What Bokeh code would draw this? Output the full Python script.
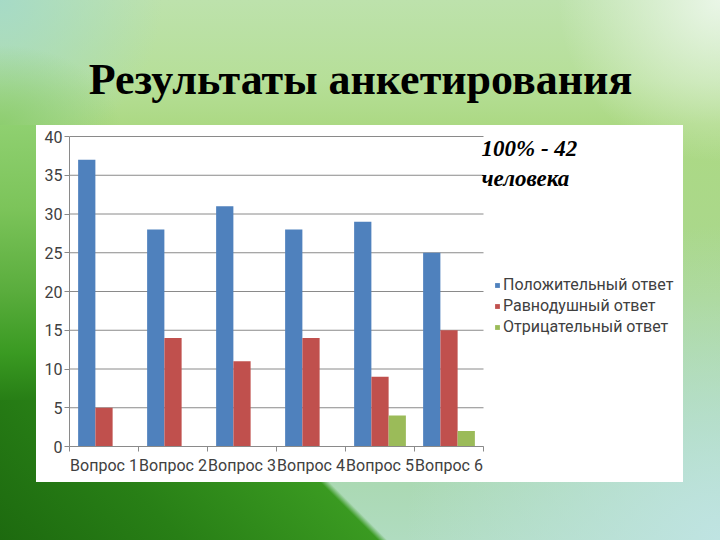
from bokeh.plotting import figure
from bokeh.models import Range1d, FixedTicker, ColumnDataSource, Legend, LegendItem, Label
from bokeh.transform import dodge
from bokeh.embed import file_html
from bokeh.resources import INLINE

# ---- data ----
questions = ["Вопрос 1", "Вопрос 2", "Вопрос 3", "Вопрос 4", "Вопрос 5", "Вопрос 6"]
series_names = ["Положительный ответ", "Равнодушный ответ", "Отрицательный ответ"]
positive = [37, 28, 31, 28, 29, 25]
neutral = [5, 14, 11, 14, 9, 15]
negative = [0, 0, 0, 0, 4, 2]
y_ticks = [0, 5, 10, 15, 20, 25, 30, 35, 40]
title_text = "Результаты анкетирования"
note_lines = ["100% - 42", "человека"]

colors = ["#4f81bd", "#c0504d", "#9bbb59"]
n = len(questions)
centers = [i + 0.5 for i in range(n)]
bounds = list(range(n + 1))

# layout (pixels): plot area 69..483 x 136..446 inside a 720x540 page
W, H = 720, 540
left_px, axis_right_px, top40_px, zero_px = 69, 483, 136, 446
x_end = n * (W - left_px) / (axis_right_px - left_px)
y_end = y_ticks[-1] * zero_px / (zero_px - top40_px)

source = ColumnDataSource(dict(x=centers, q=questions, pos=positive, neu=neutral, neg=negative))
grid_src = ColumnDataSource(dict(y=y_ticks, x0=[0] * len(y_ticks), x1=[n] * len(y_ticks)))

bg = ("linear-gradient(#ffffff,#ffffff) 36px 125px / 647px 357px no-repeat, "
      "linear-gradient(45deg, #1d6a0f 0%, #287f16 30%, #3a9a21 62%, rgba(150,210,130,0) 63.5%) 0px 400px / 470px 140px no-repeat, "
      "linear-gradient(to bottom, #8fd070 0%, #7cc45a 20%, #5aad3d 40%, #3a9a22 55%, #287f16 66%, #237a12 100%) 0px 125px / 36px 415px no-repeat, "
      "radial-gradient(ellipse 120px 80px at 0px 125px, rgba(140,205,110,0.95) 0%, rgba(140,205,110,0) 100%), "
      "radial-gradient(circle at 0% 0%, rgba(165,218,200,0.95) 0%, rgba(165,218,200,0) 18%), "
      "radial-gradient(circle at 100% 0%, rgba(236,247,234,0.95) 0%, rgba(236,247,234,0) 18%), "
      "radial-gradient(circle at 100% 100%, rgba(192,228,228,0.95) 0%, rgba(192,228,228,0) 35%), "
      "linear-gradient(to bottom, #bde2ac 0%, #b6df98 15%, #acd984 23%, #a9d78e 55%, #a6d6a8 80%, #b0dcc0 100%)")

p = figure(width=W, height=H, output_backend="svg", toolbar_location=None,
           x_range=Range1d(0, x_end), y_range=Range1d(0, y_end),
           min_border_left=left_px, min_border_right=0, min_border_top=0,
           min_border_bottom=H - zero_px)
p.styles = {"background": bg}
p.border_fill_color = None
p.background_fill_color = None
p.outline_line_color = None
p.xgrid.visible = False
p.ygrid.visible = False

gray = "#8a8a8a"
font = "Roboto"
label_color = "#404040"

# gridlines across the category span only
p.segment(x0="x0", x1="x1", y0="y", y1="y", source=grid_src, line_color=gray, line_width=1)

series = [("pos", series_names[0], colors[0], -0.25),
          ("neu", series_names[1], colors[1], 0.0),
          ("neg", series_names[2], colors[2], 0.25)]
items = []
for col, name, color, off in series:
    r = p.vbar(x=dodge("x", off, range=p.x_range), top=col, width=0.25, bottom=0,
               source=source, fill_color=color, line_color=None)
    items.append(LegendItem(label=name, renderers=[r]))

p.yaxis.ticker = FixedTicker(ticks=y_ticks)
p.yaxis.bounds = (y_ticks[0], y_ticks[-1])
p.yaxis.axis_line_color = gray
p.yaxis.major_tick_line_color = gray
p.yaxis.major_tick_out = 5
p.yaxis.major_tick_in = 0
p.yaxis.minor_tick_line_color = None
p.yaxis.major_label_standoff = 2
p.yaxis.major_label_text_font = font
p.yaxis.major_label_text_font_size = "16px"
p.yaxis.major_label_text_color = label_color

p.xaxis.ticker = FixedTicker(ticks=centers, minor_ticks=bounds)
p.xaxis.bounds = (0, n)
p.xaxis.major_label_overrides = {c: q for c, q in zip(centers, questions)}
p.xaxis.axis_line_color = gray
p.xaxis.major_tick_line_color = None
p.xaxis.minor_tick_line_color = gray
p.xaxis.minor_tick_out = 5
p.xaxis.minor_tick_in = 0
p.xaxis.major_label_standoff = 3
p.xaxis.major_label_text_font = font
p.xaxis.major_label_text_font_size = "16px"
p.xaxis.major_label_text_color = label_color

legend = Legend(items=items, location=(425, 109), orientation="vertical",
                glyph_width=6, glyph_height=6, label_standoff=3, spacing=0,
                label_height=21, padding=0, margin=0,
                border_line_color=None, background_fill_alpha=0,
                label_text_font=font, label_text_font_size="16px",
                label_text_color=label_color)
p.add_layout(legend, "center")

p.add_layout(Label(x=W / 2 - left_px, y=zero_px - 79, x_units="screen", y_units="screen",
                   text=title_text, text_align="center", text_baseline="alphabetic",
                   text_font="Liberation Serif", text_font_style="bold",
                   text_font_size="44px", text_color="#000000"))
for k, line in enumerate(note_lines):
    p.add_layout(Label(x=481 - left_px, y=zero_px - 148 - 30 * k, x_units="screen", y_units="screen",
                       text=line, text_align="left", text_baseline="alphabetic",
                       text_font="Liberation Serif", text_font_style="bold italic",
                       text_font_size="23px", text_color="#000000"))

open("out.html", "w").write(file_html(p, INLINE))
